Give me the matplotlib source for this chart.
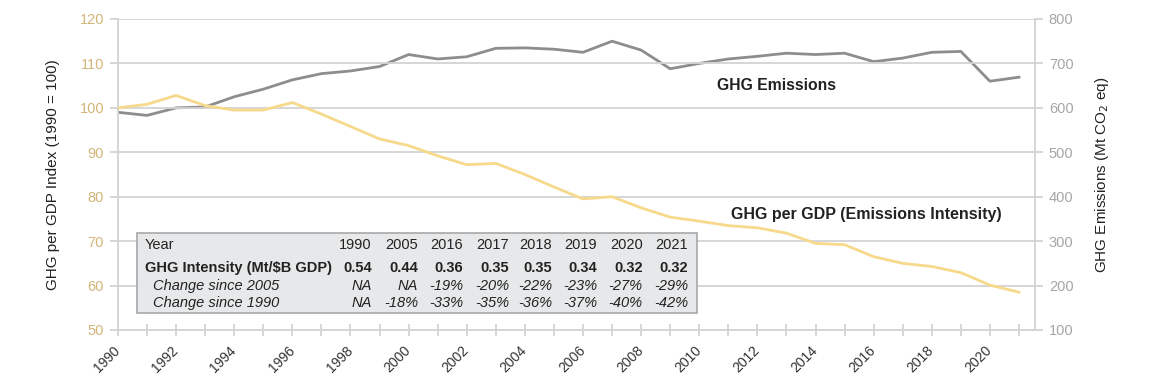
import matplotlib

matplotlib.use("Agg")

import matplotlib.pyplot as plt
from matplotlib.patches import Rectangle
from matplotlib.ticker import MultipleLocator

plt.rcParams["font.family"] = ["Liberation Sans", "DejaVu Sans"]

years = list(range(1990, 2022))
# GHG per GDP index (1990 = 100), left axis
intensity_index = [
    100.0, 100.8, 102.8, 100.5, 99.5, 99.5, 101.2, 98.6, 95.8, 93.0,
    91.5, 89.2, 87.2, 87.5, 85.0, 82.2, 79.5, 80.0, 77.5, 75.4,
    74.5, 73.5, 73.0, 71.8, 69.5, 69.2, 66.5, 65.0, 64.3, 62.9,
    60.1, 58.5,
]
# GHG emissions (Mt CO2 eq), right axis
emissions = [
    590, 583, 600, 602, 625, 642, 663, 677, 683, 693,
    720, 710, 715, 734, 735, 732, 725, 750, 730, 688,
    700, 710, 716, 723, 720, 723, 704, 712, 725, 727,
    660, 669,
]

table_years = ["1990", "2005", "2016", "2017", "2018", "2019", "2020", "2021"]
table_intensity = ["0.54", "0.44", "0.36", "0.35", "0.35", "0.34", "0.32", "0.32"]
table_since_2005 = ["NA", "NA", "-19%", "-20%", "-22%", "-23%", "-27%", "-29%"]
table_since_1990 = ["NA", "-18%", "-33%", "-35%", "-36%", "-37%", "-40%", "-42%"]

YELLOW = "#f6d98a"
GREY_LINE = "#8d8d8d"
GOLD_TEXT = "#d2b578"
GRID = "#d3d3d3"

fig = plt.figure(figsize=(11.52, 3.83), dpi=100)
ax = fig.add_axes([0.1024, 0.1384, 0.7960, 0.8120])
ax2 = ax.twinx()

ax.set_xlim(1990, 2021.55)
ax.set_ylim(50, 120)
ax2.set_ylim(100, 800)

ax.yaxis.set_major_locator(MultipleLocator(10))
ax2.yaxis.set_major_locator(MultipleLocator(100))
ax.xaxis.set_major_locator(MultipleLocator(2))
ax.xaxis.set_minor_locator(MultipleLocator(1))

ax.grid(axis="y", color=GRID, linewidth=1.3)
ax.set_axisbelow(True)

ax.spines["top"].set_visible(False)
ax2.spines["top"].set_visible(False)
ax.spines["right"].set_visible(False)
ax2.spines["left"].set_visible(False)
ax2.spines["bottom"].set_visible(False)
for sp in (ax.spines["left"], ax.spines["bottom"], ax2.spines["right"]):
    sp.set_color(GRID)
    sp.set_linewidth(1.3)

ax.tick_params(axis="y", colors=GRID, labelcolor=GOLD_TEXT, labelsize=10.5,
               direction="out", length=6, width=1.3, pad=4)
ax2.tick_params(axis="y", colors=GRID, labelcolor="#a6a6a6", labelsize=10.5,
                direction="out", length=6, width=1.3, pad=4)
ax.tick_params(axis="x", which="both", colors=GRID, labelcolor="#333333",
               labelsize=10, direction="inout", length=8, width=1.3, pad=9)
plt.setp(ax.get_xticklabels(), rotation=45, ha="right", va="center",
         rotation_mode="anchor")

ax2.plot(years, emissions, color=GREY_LINE, linewidth=2, solid_joinstyle="round", zorder=3)
ax.plot(years, intensity_index, color=YELLOW, linewidth=2, solid_joinstyle="round", zorder=3)
ax.set_zorder(ax2.get_zorder() + 1)
ax.patch.set_visible(False)

ax.set_ylabel("GHG per GDP Index (1990 = 100)", fontsize=11, color="#222222", labelpad=14)
ax2.set_ylabel("GHG Emissions (Mt CO$_2$ eq)", fontsize=11, color="#222222", labelpad=14)

ax.text(2012.65, 105.0, "GHG Emissions", fontsize=11.3, fontweight="bold",
        color="#222222", ha="center", va="center")
ax.text(2015.75, 76.1, "GHG per GDP (Emissions Intensity)", fontsize=11.5,
        fontweight="bold", color="#222222", ha="center", va="center")

# summary table
ax.add_patch(Rectangle((0.021, 0.0537), 0.610, 0.257, transform=ax.transAxes,
                       facecolor="#e7e8e9", edgecolor="#a8a8a8", linewidth=1.2, zorder=5))
col_x = [0.2767, 0.3275, 0.3766, 0.4264, 0.4736, 0.5227, 0.5722, 0.6219]
rows = [
    (0.273, "Year", table_years, dict(fontweight="normal", fontstyle="normal"), 0.0294),
    (0.198, "GHG Intensity (Mt/$B GDP)", table_intensity,
     dict(fontweight="bold", fontstyle="normal"), 0.0294),
    (0.1415, "Change since 2005", table_since_2005,
     dict(fontweight="normal", fontstyle="italic"), 0.0378),
    (0.0878, "Change since 1990", table_since_1990,
     dict(fontweight="normal", fontstyle="italic"), 0.0378),
]
for y, label, values, style, lx in rows:
    ax.text(lx, y, label, transform=ax.transAxes, fontsize=10.5, color="#222222",
            ha="left", va="center", zorder=6, **style)
    for x, v in zip(col_x, values):
        ax.text(x, y, v, transform=ax.transAxes, fontsize=10.5, color="#222222",
                ha="right", va="center", zorder=6, **style)

fig.savefig("out.png", dpi=100)
